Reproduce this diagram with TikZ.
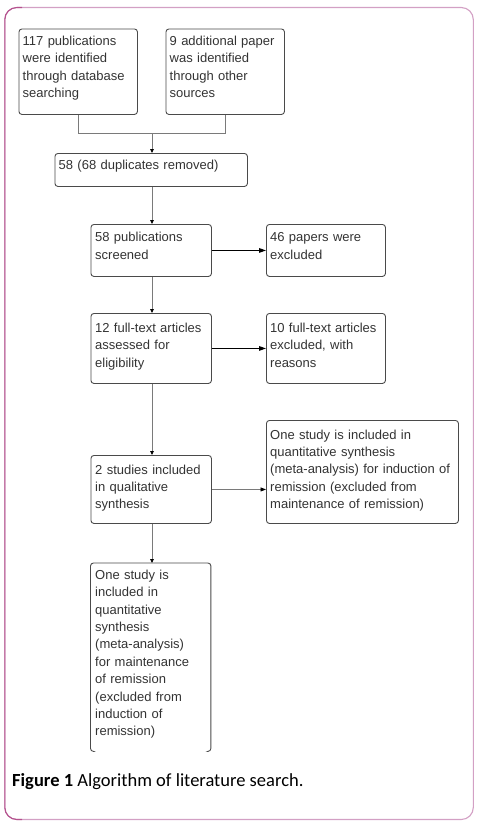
\documentclass[tikz,border=0pt]{standalone}
\usepackage{fontspec}
\setmainfont{Liberation Sans}
\newfontfamily\capfont{Carlito}
\usetikzlibrary{arrows.meta,calc}
\definecolor{framedark}{HTML}{B5528E}
\definecolor{framelight}{HTML}{D3A0C4}
\definecolor{boxline}{HTML}{4A4A4A}
\definecolor{conngray}{HTML}{7A7A7A}
\definecolor{txt}{HTML}{333333}
\tikzset{
  box/.style={draw=boxline, line width=0.9pt, rounded corners=3pt, anchor=north west, inner sep=0pt},
  openbox/.style={anchor=north west, inner sep=0pt},
  btext/.style={anchor=base west, inner sep=0pt, align=left, text=txt,
    font=\fontsize{13}{17.4}\selectfont},
  vconn/.style={draw=conngray, line width=0.8pt, -{Triangle[length=4pt,width=3.6pt,fill=black,color=black]}},
  plainconn/.style={draw=conngray, line width=0.8pt},
  hconn/.style={draw=black, line width=1.1pt, -{Triangle[length=7pt,width=4.6pt]}},
  hconnthin/.style={draw=conngray, line width=0.8pt, -{Triangle[length=5.5pt,width=4pt,fill=black,color=black]}},
}
\begin{document}
\begin{tikzpicture}[x=1pt,y=-1pt]
\useasboundingbox (0,0) rectangle (477,828);
% outer frame
\draw[framelight, line width=1.1pt, rounded corners=12pt] (4.8,7.5) rectangle (473.3,819.5);
\draw[framedark, line width=1.1pt, rounded corners=12pt] (22,819.5) -- (4.8,819.5) -- (4.8,7.5) -- (22,7.5);

% boxes
\node[box, minimum width=118.5pt, minimum height=85.5pt] (b1) at (18.5,28.5) {};
\node[box, minimum width=118.5pt, minimum height=85.5pt] (b2) at (165.5,28.5) {};
\node[box, minimum width=192.5pt, minimum height=33pt] (b3) at (54.5,153) {};
\node[box, minimum width=120.5pt, minimum height=52pt] (b4) at (90.5,224) {};
\node[box, minimum width=119pt, minimum height=52pt] (b5) at (266,224) {};
\node[box, minimum width=120.5pt, minimum height=70pt] (b6) at (90.5,313) {};
\node[box, minimum width=119pt, minimum height=70pt] (b7) at (266,313) {};
\node[box, minimum width=120.5pt, minimum height=68pt] (b8) at (90.5,455) {};
\node[box, minimum width=192pt, minimum height=103pt] (b9) at (266,420) {};
\node[openbox, minimum width=120pt, minimum height=188pt] (b10) at (90.5,563) {};
\draw[boxline, line width=0.9pt, rounded corners=3pt]
  ([xshift=2.5pt]b10.south west) -- (b10.south west) -- (b10.north west)
  -- (b10.north east) -- (b10.south east) -- ([xshift=-2.5pt]b10.south east);

% texts
\node[btext, text width=115pt] (t1) at (22.5,45.5) {117 publications\\were identified\\through database\\searching};
\node[btext, text width=115pt] (t2) at (169.5,45.5) {9 additional paper\\was identified\\through other\\sources};
\node[btext, text width=185pt] (t3) at (58.5,169.5) {58 (68 duplicates removed)};
\node[btext, text width=115pt] (t4) at (95,241.8) {58 publications\\screened};
\node[btext, text width=115pt] (t5) at (270,241.8) {46 papers were\\excluded};
\node[btext, text width=115pt] (t6) at (95,332.2) {12 full-text articles\\assessed for\\eligibility};
\node[btext, text width=115pt] (t7) at (270,332.2) {10 full-text articles\\excluded, with\\reasons};
\node[btext, text width=115pt] (t8) at (95,474) {2 studies included\\in qualitative\\synthesis};
\node[btext, text width=190pt] (t9) at (270,439) {One study is included in\\quantitative synthesis\\(meta-analysis) for induction of\\remission (excluded from\\maintenance of remission)};
\node[btext, text width=115pt] (t10) at (95,579.3) {One study is\\included in\\quantitative\\synthesis\\(meta-analysis)\\for maintenance\\of remission\\(excluded from\\induction of\\remission)};

% connectors
\coordinate (sp) at (152,0);
\coordinate (j) at (152,133.3);
\draw[plainconn] (b1.south) |- (j);
\draw[plainconn] (b2.south) |- (j);
\draw[vconn] (j) -- (b3.north -| sp);
\draw[vconn] (b3.south -| sp) -- (b4.north -| sp);
\draw[vconn] (b4.south -| sp) -- (b6.north -| sp);
\draw[vconn] (b6.south -| sp) -- (b8.north -| sp);
\draw[vconn] (b8.south -| sp) -- (b10.north -| sp);
\draw[hconn] (b4.east) -- (b4.east -| b5.west);
\draw[hconn] (b6.east) -- (b6.east -| b7.west);
\draw[hconnthin] (b8.east) -- (b8.east -| b9.west);

% caption
\node[anchor=base west, inner sep=0pt, font=\capfont\fontsize{18.5}{22}\selectfont] (cap) at (12,786) {\textbf{Figure 1} Algorithm of literature search.};
\end{tikzpicture}
\end{document}
